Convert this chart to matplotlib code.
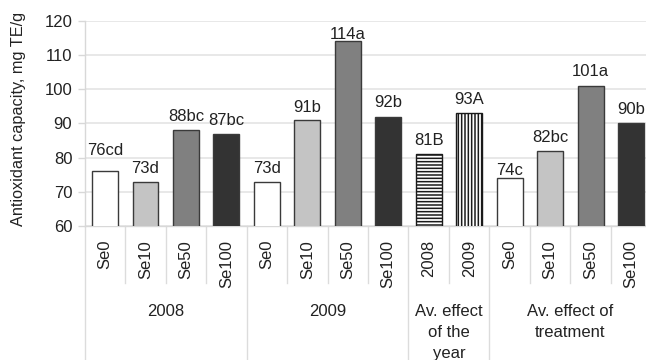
import matplotlib
matplotlib.use("Agg")
import matplotlib.pyplot as plt

plt.rcParams['font.family'] = ['Liberation Sans', 'DejaVu Sans']
plt.rcParams['hatch.linewidth'] = 1.1

# 数据：抗氧化能力 (mg TE/g)
categories = ['Se0', 'Se10', 'Se50', 'Se100',
              'Se0', 'Se10', 'Se50', 'Se100',
              '2008', '2009',
              'Se0', 'Se10', 'Se50', 'Se100']
values = [76, 73, 88, 87,
          73, 91, 114, 92,
          81, 93,
          74, 82, 101, 90]
letters = ['cd', 'd', 'bc', 'bc',
           'd', 'b', 'a', 'b',
           'B', 'A',
           'c', 'bc', 'a', 'b']
groups = ['2008', '2009', 'Av. effect\nof the\nyear', 'Av. effect of\ntreatment']
group_sizes = [4, 4, 2, 4]

# 样式
fills = ['white', '#c4c4c4', '#808080', '#333333'] * 2 + ['white', 'white'] + ['white', '#c4c4c4', '#808080', '#333333']
hatches = [None] * 8 + ['-----', '|||||'] + [None] * 4
label_gap = [11.5, 6.5, 6.5, 6.5, 6.5, 6, 2, 7, 6.5, 6.5, 2, 6.5, 7, 7]

fig = plt.figure(figsize=(6.46, 3.6), dpi=100)
ax = fig.add_axes([0.1313, 0.3722, 0.8687, 0.5695])

x = list(range(len(values)))
bars = ax.bar(x, values, width=0.64, bottom=0, color=fills,
              edgecolor='#3a3a3a', linewidth=1.0, zorder=3)
for b, h in zip(bars, hatches):
    if h:
        b.set_hatch(h)
        b.set_edgecolor('#1a1a1a')

for xi, v, s, g in zip(x, values, letters, label_gap):
    ax.annotate(f"{v}{s}", xy=(xi, v), xytext=(0, g), textcoords='offset points',
                ha='center', va='baseline', fontsize=12, color='#222222', zorder=4)

ax.set_ylim(60, 120)
ax.set_xlim(-0.5, 13.37)
ax.set_yticks(range(60, 121, 10))
ax.yaxis.grid(True, color='#e4e4e4', linewidth=1.2, zorder=0)
ax.tick_params(axis='y', labelsize=12, labelcolor='#222222', color='#d8d8d8',
               length=5, width=1.0, pad=4)
ax.set_ylabel('Antioxidant capacity, mg TE/g', fontsize=11.7, color='#222222')
ax.yaxis.set_label_coords(-0.104, 0.52)

for side in ['top', 'right']:
    ax.spines[side].set_visible(False)
for side in ['left', 'bottom']:
    ax.spines[side].set_color('#d8d8d8')
    ax.spines[side].set_linewidth(1.0)

# 类别标签
ax.set_xticks(x)
ax.set_xticklabels(categories, rotation=90, fontsize=12, color='#222222')
ax.tick_params(axis='x', length=0, pad=10)
for lab in ax.get_xticklabels():
    lab.set_va('top')

# 分隔线与分组标签
xt = ax.get_xaxis_transform()
bounds = [0]
for n in group_sizes:
    bounds.append(bounds[-1] + n)
long_edges = set(bounds)
for i in range(len(values) + 1):
    pos = i - 0.5
    if i in long_edges:
        y0 = -0.7
    else:
        y0 = -0.28
    ax.plot([pos, pos], [0, y0], transform=xt, color='#dcdcdc', linewidth=1.0, clip_on=False)

for gname, a, b in zip(groups, bounds[:-1], bounds[1:]):
    center = (a + b - 1) / 2
    ax.annotate(gname, xy=(center, 0), xycoords=xt, xytext=(0, -56),
                textcoords='offset points', ha='center', va='top',
                fontsize=12, color='#222222', linespacing=1.5, annotation_clip=False)

fig.savefig('out.png', dpi=100)
